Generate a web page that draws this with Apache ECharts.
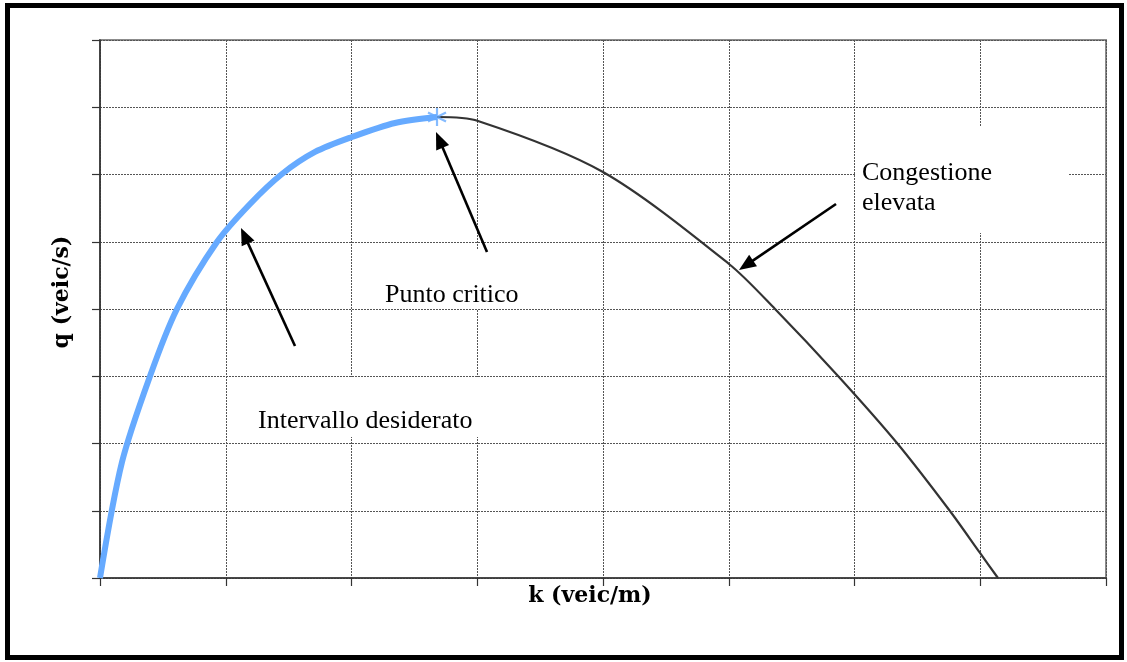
<!DOCTYPE html>
<html>
<head>
<meta charset="utf-8">
<title>q (veic/s) – k (veic/m)</title>
<script src="https://cdn.jsdelivr.net/npm/echarts@6/dist/echarts.min.js"></script>
<style>
  html, body { margin: 0; padding: 0; background: #ffffff; }
  #chart { width: 1127px; height: 662px; }
</style>
</head>
<body>
<div id="chart"></div>
<script>
// Flow–density relationship: free-flow branch up to the critical point, congested branch after it
const freeFlowK  = [0, 0.175, 0.398, 0.612, 0.930, 1.193, 1.447, 1.710, 2.004, 2.346, 2.680];
const freeFlowQ  = [0, 1.725, 3.004, 4.000, 4.996, 5.561, 6.007, 6.335, 6.558, 6.766, 6.855];
const congestedK = [2.680, 3.006, 4.000, 5.002, 5.368, 5.869, 6.338, 6.759, 6.998, 7.141];
const congestedQ = [6.855, 6.796, 6.037, 4.669, 4.000, 3.004, 2.007, 0.996, 0.372, 0];
const criticalPoint = [2.680, 6.855];

const axisNames = { x: 'k (veic/m)', y: 'q (veic/s)' };
const notes = ['Punto critico', 'Intervallo desiderato', 'Congestione\nelevata'];

const zip = (a, b) => a.map((v, i) => [v, b[i]]);

const GRID = { left: 100, top: 40, right: 21, bottom: 84 };
const serifText = '"Liberation Serif", "Times New Roman", serif';
const boldTitle = '"DejaVu Serif", "Liberation Serif", serif';

// arrow: line from tail to tip with a filled triangular head at the tip
function arrow(tail, tip) {
  const dx = tip[0] - tail[0], dy = tip[1] - tail[1];
  const len = Math.hypot(dx, dy);
  const ux = dx / len, uy = dy / len;
  const hl = 17, hw = 7;
  const bx = tip[0] - ux * hl, by = tip[1] - uy * hl;
  return [
    { type: 'line', z: 30, shape: { x1: tail[0], y1: tail[1], x2: bx + ux * 2, y2: by + uy * 2 },
      style: { stroke: '#000', lineWidth: 2.6 } },
    { type: 'polygon', z: 30,
      shape: { points: [tip, [bx - uy * hw, by + ux * hw], [bx + uy * hw, by - ux * hw]] },
      style: { fill: '#000' } }
  ];
}

function whiteBox(x, y, w, h) {
  return { type: 'rect', z: 1, shape: { x, y, width: w, height: h }, style: { fill: '#ffffff' } };
}

function note(text, x, y) {
  return { type: 'text', z: 30, x, y,
    style: { text, font: '26px ' + serifText, fill: '#000', lineHeight: 30, verticalAlign: 'alphabetic' } };
}

const chart = echarts.init(document.getElementById('chart'));

const axisCommon = {
  type: 'value',
  min: 0,
  max: 8,
  interval: 1,
  axisLabel: { show: false },
  axisTick: { show: true, inside: false, length: 8, lineStyle: { color: '#333', width: 1.2 } },
  axisLine: { show: true, onZero: false, lineStyle: { color: '#333', width: 1.6 } },
  splitLine: { show: true, lineStyle: { color: '#555', width: 1, type: [2, 1] } }
};

chart.setOption({
  animation: false,
  backgroundColor: '#ffffff',
  grid: { left: GRID.left, top: GRID.top, right: GRID.right, bottom: GRID.bottom,
          show: true, borderColor: '#8c8c8c', borderWidth: 2, backgroundColor: 'transparent' },
  xAxis: Object.assign({}, axisCommon),
  yAxis: Object.assign({}, axisCommon),
  series: [
    {
      type: 'line', z: 5,
      data: zip(freeFlowK, freeFlowQ),
      showSymbol: false,
      smooth: 0.3,
      lineStyle: { color: '#66aaff', width: 6 }
    },
    {
      type: 'line', z: 4,
      data: zip(congestedK, congestedQ),
      showSymbol: false,
      smooth: 0.3,
      lineStyle: { color: '#333333', width: 2.2 }
    },
    {
      type: 'scatter', z: 6,
      data: [criticalPoint],
      symbol: 'path://M0,-10L0,10M-8.7,-5L8.7,5M-8.7,5L8.7,-5',
      symbolSize: 18,
      itemStyle: { color: 'rgba(0,0,0,0)', borderColor: '#66aaff', borderWidth: 2.2 }
    }
  ],
  graphic: [
    // text boxes with white fill
    whiteBox(380, 250, 175, 59),
    whiteBox(240, 377, 250, 60),
    whiteBox(855, 127, 213, 106),
    note(notes[0], 385, 280),
    note(notes[1], 258, 406),
    note(notes[2], 862, 158),
    ...arrow([295, 346], [241, 228]),
    ...arrow([487, 252], [436, 132]),
    ...arrow([836, 204], [739, 270]),
    // axis titles
    { type: 'text', z: 30, x: 590, y: 596,
      style: { text: axisNames.x, font: 'bold 22px ' + boldTitle, fill: '#000',
               align: 'center', verticalAlign: 'middle' } },
    { type: 'text', z: 30, x: 62, y: 292, rotation: Math.PI / 2,
      style: { text: axisNames.y, font: 'bold 22px ' + boldTitle, fill: '#000',
               align: 'center', verticalAlign: 'middle' } },
    // outer frame
    { type: 'rect', z: 40, shape: { x: 7.5, y: 5.5, width: 1114, height: 652 },
      style: { fill: 'none', stroke: '#000', lineWidth: 5 } }
  ]
});
</script>
</body>
</html>
